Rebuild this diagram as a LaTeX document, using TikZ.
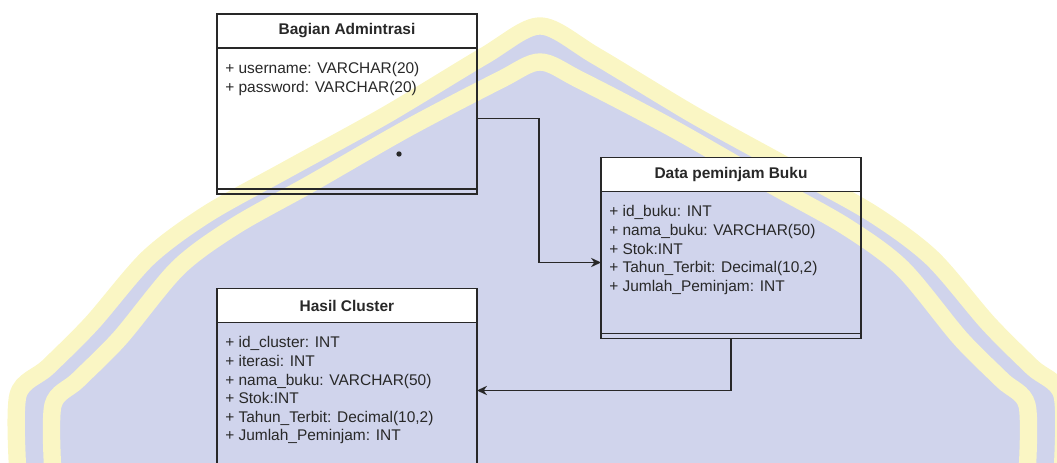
\documentclass[tikz,border=0pt]{standalone}
\usepackage{fontspec}
\setmainfont{Liberation Sans}
\usetikzlibrary{positioning,calc,arrows.meta}
\definecolor{wmblue}{RGB}{208,212,236}
\definecolor{wmyellow}{RGB}{250,246,196}
\definecolor{ink}{RGB}{40,40,40}

\begin{document}
\begin{tikzpicture}[x=0.75pt,y=-0.75pt,
  head/.style={rectangle, draw=ink, line width=0.9pt, fill=white, outer sep=0pt, inner sep=0pt, minimum width=195pt, minimum height=25.5pt, text=ink, font=\bfseries\fontsize{11.6}{13.95}\selectfont},
  body/.style={rectangle, draw=ink, line width=0.9pt, outer sep=0pt, inner sep=0pt, minimum width=195pt},
  attr/.style={anchor=north west, align=left, inner sep=0pt, text=ink, font=\fontsize{11.6}{13.95}\selectfont},
  conn/.style={-{Stealth[length=7.5pt,width=7pt]}, draw=ink, line width=0.9pt}]

\useasboundingbox (0,0) rectangle (1057,463);
\clip (0,0) rectangle (1057,463);

% watermark in the background
\fill[wmblue] plot[smooth] coordinates {(18,475) (18,395) (48,367) (92,323) (148,258) (207,214) (286,170) (386,115) (484,56) (540,26) (596,56) (694,115) (794,170) (873,214) (932,258) (988,323) (1032,367) (1062,395) (1062,475)} -- cycle;
\draw[wmyellow, line width=13pt] plot[smooth] coordinates {(18,475) (18,395) (48,367) (92,323) (148,258) (207,214) (286,170) (386,115) (484,56) (540,26) (596,56) (694,115) (794,170) (873,214) (932,258) (988,323) (1032,367) (1062,395) (1062,475)};
\draw[wmyellow, line width=13pt] plot[smooth] coordinates {(53,475) (53,405) (78,380) (120,338) (178,268) (235,226) (312,183) (408,128) (500,80) (540,62) (580,80) (672,128) (768,183) (845,226) (902,268) (960,338) (1002,380) (1027,405) (1027,475)};

% Bagian Admintrasi
\node[head] (t1) at (347,31) {Bagian Admintrasi};
\node[body, minimum height=105.75pt, below=0pt of t1] (b1) {};
\node[body, minimum height=3.75pt, below=0pt of b1] (f1) {};
\node[attr] (a1) at ($(b1.north west)+(8,14)$) {+ username: VARCHAR(20)\\+ password: VARCHAR(20)};
\node[circle, fill=ink, inner sep=0pt, minimum size=4pt] (d1) at (399,154) {};

% Data peminjam Buku
\node[head] (t2) at (731,174.5) {Data peminjam Buku};
\node[body, minimum height=106.5pt, below=0pt of t2] (b2) {};
\node[body, minimum height=3.75pt, below=0pt of b2] (f2) {};
\node[attr] (a2) at ($(b2.north west)+(8,14)$) {+ id\_buku: INT\\+ nama\_buku: VARCHAR(50)\\+ Stok:INT\\+ Tahun\_Terbit: Decimal(10,2)\\+ Jumlah\_Peminjam: INT};

% Hasil Cluster
\node[head] (t3) at (347,305.5) {Hasil Cluster};
\node[body, minimum height=150pt, below=0pt of t3] (b3) {};
\node[attr] (a3) at ($(b3.north west)+(8,14)$) {+ id\_cluster: INT\\+ iterasi: INT\\+ nama\_buku: VARCHAR(50)\\+ Stok:INT\\+ Tahun\_Terbit: Decimal(10,2)\\+ Jumlah\_Peminjam: INT};

\draw[conn] (b1.east) -- ++(62,0) |- (b2.west);
\draw[conn] (f2.south) |- ($(b3.north east)+(0,68)$);

\end{tikzpicture}
\end{document}
